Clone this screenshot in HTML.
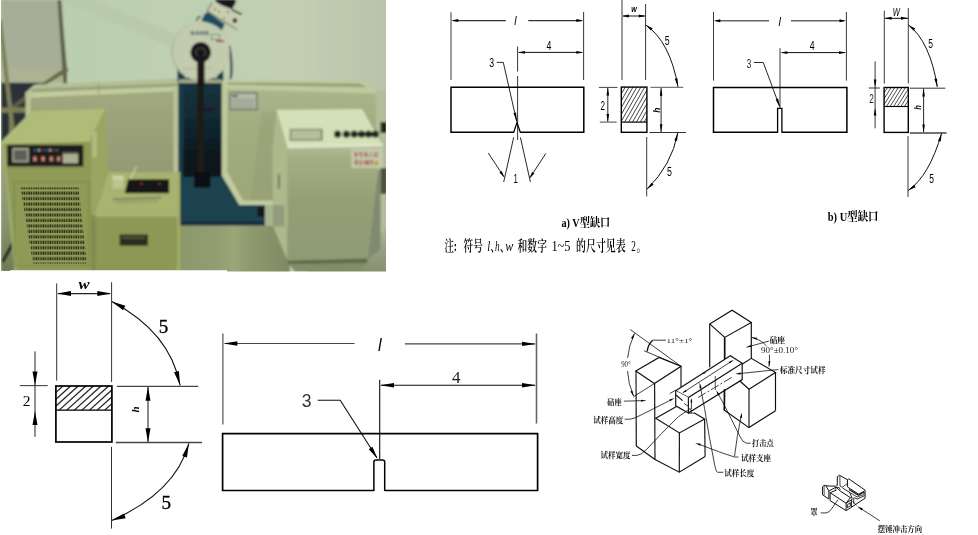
<!DOCTYPE html>
<html lang="zh"><head><meta charset="utf-8"><title>冲击试验</title>
<style>html,body{margin:0;padding:0;background:#fff}svg{display:block}</style></head>
<body><svg width="978" height="535" viewBox="0 0 978 535">
<rect width="978" height="535" fill="#fff"/>
<g id="photo"><defs>
<clipPath id="pc"><path d="M1,0 H386 V271.5 H227 V270.3 H10 V271 H1 Z"/></clipPath>
<filter id="pbv" x="-5%" y="-5%" width="110%" height="110%"><feGaussianBlur stdDeviation="0.45"/></filter><filter id="pb" x="-5%" y="-5%" width="110%" height="110%"><feGaussianBlur stdDeviation="1.0"/></filter>
<linearGradient id="wall" x1="0" y1="0" x2="1" y2="0"><stop offset="0" stop-color="#b9cdad"/><stop offset=".3" stop-color="#bdcfb1"/><stop offset=".75" stop-color="#c2cfb3"/><stop offset="1" stop-color="#b8c2a8"/></linearGradient>
<linearGradient id="floor" x1="0" y1="0" x2="1" y2="0"><stop offset="0" stop-color="#8c976b"/><stop offset=".35" stop-color="#929e70"/><stop offset=".5" stop-color="#9aa678"/><stop offset=".65" stop-color="#8e996d"/><stop offset="1" stop-color="#7f8a62"/></linearGradient>
<linearGradient id="col" x1="0" y1="0" x2="0" y2="1"><stop offset="0" stop-color="#163441"/><stop offset=".3" stop-color="#132c37"/><stop offset=".55" stop-color="#10232c"/><stop offset=".7" stop-color="#0d1a21"/><stop offset="1" stop-color="#0b141a"/></linearGradient>
<linearGradient id="rcab" x1="0" y1="0" x2="0" y2="1"><stop offset="0" stop-color="#b4be95"/><stop offset=".12" stop-color="#a3ae84"/><stop offset=".5" stop-color="#949f76"/><stop offset="1" stop-color="#8f9b74"/></linearGradient>
<linearGradient id="brf" gradientUnits="userSpaceOnUse" x1="0" y1="225" x2="0" y2="272"><stop offset="0" stop-color="#b0b998"/><stop offset=".5" stop-color="#98a282"/><stop offset="1" stop-color="#87916f"/></linearGradient>
<linearGradient id="lstrip" gradientUnits="userSpaceOnUse" x1="0" y1="141" x2="0" y2="272"><stop offset="0" stop-color="#9fa884"/><stop offset=".6" stop-color="#8a9470"/><stop offset="1" stop-color="#707a56"/></linearGradient><linearGradient id="mesh" x1="0" y1="0" x2="0" y2="1"><stop offset="0" stop-color="#aeb790"/><stop offset=".35" stop-color="#a4ae7f"/><stop offset="1" stop-color="#9ea878"/></linearGradient>
<linearGradient id="meshL" x1="0" y1="0" x2="0" y2="1"><stop offset="0" stop-color="#a5ac82"/><stop offset="1" stop-color="#8f9670"/></linearGradient>
<pattern id="vent" x="0" y="0" width="2.35" height="5.46" patternUnits="userSpaceOnUse"><rect width="2.35" height="5.46" fill="#8f9b55"/><rect x="0.35" y="0.5" width="1.45" height="3.1" fill="#262b18"/></pattern>
<pattern id="meshp" x="0" y="0" width="4" height="2.4" patternUnits="userSpaceOnUse"><rect width="4" height="2.4" fill="none"/><rect y="0" width="4" height="0.9" fill="#8a916c" opacity=".22"/></pattern>
</defs>
<g clip-path="url(#pc)"><g filter="url(#pb)">
<rect x="-5" y="-5" width="400" height="285" fill="url(#wall)"/>
<polygon points="95,0 200,45 200,60 60,0" fill="#b6c3a8" opacity=".5"/>
<polygon points="1,0 62,0 65,83 1,83" fill="#a9b09a"/>
<rect x="2" y="0" width="62" height="83" fill="url(#meshp)"/>
<polygon points="1,68 64,68 65,83 1,83" fill="#b0b595" opacity=".6"/>
<polygon points="1,82.7 46,82.7 36.6,84.5 25.5,93 28,125 1,142" fill="#2b3238"/>
<polygon points="57.5,0 61,0 67,70 67,83.5 63.4,83.5" fill="#5e6146"/>
<polygon points="66.7,66.5 68.5,71 47,84 41,84" fill="#666949"/>
<polygon points="41,84 47,84 14,109.5 10,107" fill="#5a5e44"/>
<polygon points="-2,20 1.8,20 13.7,120 15.5,137 9,140 9.2,120" fill="#7d8057"/>
<polygon points="1,107.6 28,107.2 28,112.4 1,112.8" fill="#7b7e55"/>
<polygon points="25.7,92.5 35,85 178,79 178,200 25.7,200" fill="url(#meshL)"/>
<rect x="30" y="96" width="146" height="100" fill="url(#meshp)"/>
<polygon points="25.7,92.5 34,85 178,79.3 178,83 37,88.5 31,93.5" fill="#b6bf94"/>
<polygon points="31,89.5 178,84 178,87 31,92.6" fill="#98a179"/>
<polygon points="25.7,92.5 178,86.6 178,91 25.7,97.8" fill="#c3cc9f"/>
<rect x="25.7" y="93" width="5" height="30" fill="#b9c297"/>
<rect x="173.5" y="86" width="5" height="120" fill="#b9c297"/>
<line x1="98.7" y1="84" x2="98.7" y2="94" stroke="#8f9872" stroke-width="1"/>
<polygon points="221.7,80 363,81.2 375.8,89.5 375.8,150 221.7,150" fill="url(#mesh)"/>
<polygon points="227,88 375,91 375,210 227,210" fill="url(#mesh)"/>
<rect x="227" y="92" width="148" height="118" fill="url(#meshp)"/>
<polygon points="262,112 276,112 274,205 250,205" fill="#8f9672" opacity=".3"/>
<polygon points="221.7,79.6 363,81 375.8,89.5 375.8,93.5 221.7,88.5" fill="#c1ca9e"/>
<polygon points="228,82.4 360,83.4 367,87.2 228,84.8" fill="#98a179"/>
<rect x="221.7" y="80" width="5.6" height="96" fill="#c0c99d"/>
<polygon points="221.7,174 227.3,172 243,200.5 273,200.5 273,205 239.2,205" fill="#c3cc9f"/>
<rect x="229.5" y="92" width="28" height="18.3" fill="#6e7366"/>
<rect x="231" y="93.6" width="25" height="15" fill="#b6bba8"/>
<rect x="232" y="95" width="6" height="2" fill="#4a5866"/>
<rect x="232.5" y="99" width="22" height="0.8" fill="#858a7c"/>
<rect x="232.5" y="101.4" width="22" height="0.8" fill="#858a7c"/>
<rect x="232.5" y="103.8" width="22" height="0.8" fill="#858a7c"/>
<rect x="232.5" y="106.2" width="22" height="0.8" fill="#858a7c"/>
<rect x="178.5" y="78" width="43.2" height="100" fill="url(#col)"/>
<rect x="178.5" y="84" width="5" height="142" fill="#183a47"/>
<polygon points="181.6,175.3 221.7,175.3 239.2,205 264.9,205 264.9,225.6 181.6,225.6" fill="#1c4250"/>
<rect x="181.6" y="221.5" width="83.3" height="4.6" fill="#142f3b"/>
<rect x="183" y="150" width="38" height="27" fill="#0e151c"/>
<rect x="197.3" y="48" width="6.6" height="128" fill="#1e1b18"/>
<rect x="203" y="108.5" width="10" height="3.4" fill="#1c1c22"/>
<rect x="193.9" y="172" width="16.5" height="15.6" fill="#101114"/>
<rect x="257.7" y="207" width="8.2" height="9.5" fill="#121317"/>
<polygon points="201.2,20.6 205,13.5 208,12.3 224.8,23.9 221.8,30.7" fill="#1c4c62"/>
<path d="M200.5,16.5 Q196.5,17 197.2,21" fill="none" stroke="#1f2c30" stroke-width="1.4"/>
<polygon points="212.1,2.2 243.9,15.5 236.8,29.5 207.2,11.2" fill="#c8ceae"/>
<polyline points="236.8,29.5 207.2,11.2 212.1,2.2" fill="none" stroke="#3a3f34" stroke-width="0.9"/>
<polygon points="215,-1 235.6,-1 235.6,3 232,9.2 222,5.5 216,2" fill="#17191a"/>
<line x1="231.9" y1="9.7" x2="241.6" y2="14.6" stroke="#1c1e1e" stroke-width="1.7"/>
<circle cx="234.9" cy="20.6" r="2.3" fill="#1f2220"/>
<circle cx="214.7" cy="9" r="0.9" fill="#4a4f40"/>
<circle cx="218.8" cy="11.6" r="0.9" fill="#4a4f40"/>
<circle cx="227.8" cy="12" r="0.9" fill="#4a4f40"/>
<circle cx="224" cy="18.3" r="0.9" fill="#4a4f40"/>
<path d="M229.3,46 Q232.5,62 230.8,79" fill="none" stroke="#1a262e" stroke-width="2.2"/>
<polygon points="177.5,66 183,66 186,82 177.5,82" fill="#18384a"/>
<polygon points="218,72 223,66 223.5,80 216,82" fill="#18384a"/>
<rect x="178.5" y="79.4" width="43.2" height="3.6" fill="#a3ab86"/>
<ellipse cx="200.5" cy="51.5" rx="29" ry="29.6" fill="#a5ad92"/>
<ellipse cx="201.2" cy="51" rx="28.6" ry="29.2" fill="#c3cbae"/>
<text transform="translate(199.6 35) scale(1.15 1)" font-family="Liberation Sans, sans-serif" font-size="6" text-anchor="middle" font-weight="bold" font-style="italic" fill="#2a3f5c">SANS</text>
<rect x="211.4" y="34.5" width="8" height="5" fill="#c3d0b4"  stroke="#3f8450" stroke-width="0.9"/>
<rect x="216.5" y="40" width="7.5" height="2.1" fill="#b03a38"/>
<line x1="183" y1="68.5" x2="213" y2="68.5" stroke="#8a8f88" stroke-width="0.5"/>
<circle cx="200.7" cy="52.4" r="10.3" fill="#151517"/>
<circle cx="200.7" cy="52.4" r="5.6" fill="#3a3c3c"/>
<circle cx="200.7" cy="52.4" r="3.6" fill="#121212"/>
<rect x="197.2" y="56" width="7.4" height="30" fill="#1b1714"/>
<polygon points="178,225.6 290,225.6 290,275 178,275" fill="url(#floor)"/>
<rect x="376" y="90" width="12" height="140" fill="#b3bd9a"/>
<polygon points="364,250 388,225 388,275 300,275" fill="url(#brf)"/>
<rect x="380.5" y="122" width="6.5" height="11" fill="#23251f"/>
<rect x="380.5" y="168" width="6.5" height="26" fill="#4e5138"/>
<polygon points="378,170 380.5,170 380.5,250 367.5,258.8" fill="#7f8a70"/>
<polygon points="276.7,110 287.5,147.4 287.5,260.6 273,226 272.5,147" fill="#aeb88b"/>
<rect x="272.7" y="205" width="11.7" height="21.7" fill="#939c7c"/>
<rect x="265" y="205" width="8" height="21" fill="#a9b28f"/>
<line x1="278.8" y1="174.3" x2="278.8" y2="188.6" stroke="#3c4034" stroke-width="1.2"/>
<polygon points="287.5,146 382.7,144.5 378,170 367.5,258.8 287.5,260.6" fill="url(#rcab)"/>
<polygon points="276.7,110 362.1,109.1 382.7,145.4 287.5,147.4" fill="#d4e1b8"/>
<polygon points="287.5,145.4 382.7,143.6 382.7,146.4 287.5,148.2" fill="#dfe6c8"/>
<polygon points="287.5,260.4 367.5,258.6 367,263 289,264.5" fill="#5f6a4c"/>
<polygon points="289,264.5 367,263 360,272 295,272" fill="#818c68"/>
<rect x="289.5" y="128.7" width="33.3" height="12.2" fill="#8b927a"/>
<rect x="291.5" y="130.5" width="29" height="8.6" fill="#b7bf9f"/>
<circle cx="337.6" cy="134.2" r="3.6" fill="#1b2a1f"/>
<circle cx="346.4" cy="134.2" r="3.6" fill="#1b2a1f"/>
<circle cx="354.2" cy="134.2" r="3.6" fill="#1b2a1f"/>
<circle cx="361.5" cy="134.2" r="3.6" fill="#1b2a1f"/>
<circle cx="368.6" cy="134.2" r="3.6" fill="#1b2a1f"/>
<circle cx="375.3" cy="134.2" r="3.6" fill="#1b2a1f"/>
<rect x="351.3" y="148.4" width="31.4" height="19.5" fill="#c5c9ae"/>
<text transform="translate(366 156.2)" font-family="Liberation Sans, Noto Sans CJK SC, sans-serif" font-size="5" text-anchor="middle" font-weight="bold" font-style="normal" fill="#a0513f">非专业人员</text>
<text transform="translate(364 163.8)" font-family="Liberation Sans, Noto Sans CJK SC, sans-serif" font-size="5" text-anchor="middle" font-weight="bold" font-style="normal" fill="#a0513f">禁止操作</text>
<polygon points="376.5,160 379.5,165 373.5,165" fill="#b99a2e"/>
<polygon points="1,141 4,141 16,272 1,272" fill="url(#lstrip)"/>
<line x1="13" y1="243" x2="2.5" y2="262" stroke="#1c1f14" stroke-width="3.2"/>
<polygon points="90.5,138.8 104.9,108.9 108.4,172.2 95.5,215.4 90.5,215.4" fill="#99a560"/>
<rect x="90.5" y="215" width="5.5" height="58" fill="#7f8a50"/>
<rect x="92.6" y="132.6" width="4.1" height="24.7" fill="#b5bd88"  transform="skewY(-8) translate(0 13)"/>
<polygon points="31.9,111 104.9,108.9 90.5,138.8 2,140.8" fill="#b1bb78"/>
<polygon points="2,140.8 90.8,138.8 91.6,272 14.5,272" fill="#8e9a55"/>
<polygon points="2,141 4,141 17,272 14.5,272" fill="#a3ad6c"/>
<polygon points="2,140.8 90.8,138.8 90.8,141.5 2,143.5" fill="#b6c07e"/>
<rect x="7.2" y="144.9" width="76.1" height="21.6" fill="#1b1d1e"/>
<rect x="12.3" y="148" width="16.5" height="14.4" fill="#a0a68a"/>
<rect x="14" y="150" width="13" height="10.5" fill="#5a6156"/>
<rect x="34" y="149.2" width="2" height="2" fill="#44709f"/>
<rect x="38" y="149.2" width="2" height="2" fill="#b9bdb0"/>
<rect x="41.6" y="149.2" width="2" height="2" fill="#98463a"/>
<rect x="45.3" y="149.2" width="2" height="2" fill="#44709f"/>
<rect x="49" y="149.2" width="2" height="2" fill="#b9bdb0"/>
<rect x="52.5" y="149.2" width="2" height="2" fill="#98463a"/>
<rect x="56.2" y="149.2" width="2" height="2" fill="#44709f"/>
<rect x="32.9" y="156.2" width="4" height="5.4" fill="#a0473a"/>
<rect x="34" y="157.4" width="1.8" height="3" fill="#c5b8a8"/>
<rect x="41.1" y="156.2" width="4" height="5.4" fill="#a0473a"/>
<rect x="42.2" y="157.4" width="1.8" height="3" fill="#c5b8a8"/>
<rect x="49.4" y="156.2" width="4" height="5.4" fill="#a0473a"/>
<rect x="50.5" y="157.4" width="1.8" height="3" fill="#c5b8a8"/>
<rect x="56.6" y="156.2" width="4" height="5.4" fill="#a0473a"/>
<rect x="57.7" y="157.4" width="1.8" height="3" fill="#c5b8a8"/>
<rect x="62.7" y="152.4" width="15.5" height="11" fill="#a9af90"/>
<rect x="62.7" y="152.4" width="15.5" height="1.6" fill="#4c4f46"/>
<rect x="14.4" y="181.9" width="74.6" height="83.8" fill="none" stroke="#7b8748" stroke-width="1"/>
<polygon points="108.4,172.2 179.6,172.2 179.6,216 95.5,216" fill="#a9b370"/>
<polygon points="95.5,215.4 179.6,215.4 179.6,272 95.5,272" fill="#8d9857"/>
<line x1="95.5" y1="215.8" x2="179.6" y2="215.8" stroke="#b3bc7c" stroke-width="1.2"/>
<rect x="177.2" y="172" width="3" height="100" fill="#a3ad68"/>
<polygon points="128.2,179.2 169.1,179.2 169.1,193.2 124.7,193.2" fill="#141512"/>
<rect x="140" y="183.2" width="3" height="1.2" fill="#98463a"/>
<rect x="158" y="183.2" width="3" height="1.2" fill="#98463a"/>
<rect x="112.6" y="175.7" width="11" height="12.8" fill="#bcc492"/>
<rect x="112.6" y="175.7" width="11" height="4" fill="#cdd4a6"/>
<line x1="130.5" y1="179.2" x2="136.4" y2="166.3" stroke="#d0d6b4" stroke-width="1.1"/>
<line x1="113" y1="199.5" x2="160.9" y2="197.5" stroke="#6f7650" stroke-width="1.4"/>
<line x1="116" y1="202.5" x2="158" y2="201" stroke="#7f865c" stroke-width="1"/>
<rect x="119.6" y="234.5" width="28.4" height="11.2" fill="#2a2f1c"/>
<rect x="122" y="237" width="23" height="1.5" fill="#5c6140"/>
</g><g filter="url(#pbv)">
<polygon points="20.5,187.6 78.5,187.6 86.8,263.5 33,263.5" fill="url(#vent)"/>
</g></g></g>
<defs><filter id="soft" x="-2%" y="-2%" width="104%" height="104%"><feGaussianBlur stdDeviation="0.35"/></filter></defs>
<g id="dia-a" filter="url(#soft)"><line x1="451" y1="12.3" x2="451" y2="80" stroke="#222" stroke-width="0.9"/>
<line x1="583.6" y1="12" x2="583.6" y2="80" stroke="#222" stroke-width="0.9"/>
<line x1="453" y1="20.6" x2="505.8" y2="20.6" stroke="#333" stroke-width="1.3"/>
<line x1="528.3" y1="20.6" x2="582" y2="20.6" stroke="#333" stroke-width="1.3"/>
<polygon points="451.3,20.6 458.3,19.1 458.3,22.1" fill="#000"/>
<polygon points="583.3,20.6 576.3,22.1 576.3,19.1" fill="#000"/>
<text transform="translate(515.3 24.6) scale(0.8 1)" font-family="Liberation Sans, sans-serif" font-size="13" text-anchor="middle" font-weight="normal" font-style="italic" fill="#000">l</text>
<line x1="517.6" y1="46.5" x2="517.6" y2="71.5" stroke="#222" stroke-width="0.9"/>
<line x1="517.6" y1="76" x2="517.6" y2="140" stroke="#222" stroke-width="0.9"/>
<line x1="519" y1="52.4" x2="582" y2="52.4" stroke="#111" stroke-width="1"/>
<polygon points="517.9,52.4 524.9,51 524.9,53.8" fill="#000"/>
<polygon points="583.3,52.4 576.3,53.8 576.3,51" fill="#000"/>
<text transform="translate(549 50) scale(0.7 1)" font-family="Liberation Sans, sans-serif" font-size="12.5" text-anchor="middle" font-weight="normal" font-style="normal" fill="#000">4</text>
<text transform="translate(491.8 66.6) scale(0.7 1)" font-family="Liberation Sans, sans-serif" font-size="12.5" text-anchor="middle" font-weight="normal" font-style="normal" fill="#000">3</text>
<polyline points="496.7,62.4 503.3,62.4 516.6,121" fill="none" stroke="#111" stroke-width="0.9"/>
<polygon points="517,122.5 513.51,113.04 516.04,112.46" fill="#000"/>
<polyline points="514,132.2 451,132.2 451,87.2 583.8,87.2 583.8,132.2 520,132.2" fill="none" stroke="#000" stroke-width="1.5"/>
<polyline points="513.6,132.6 517,122.5 520.4,132.6" fill="none" stroke="#000" stroke-width="1.3"/>
<line x1="513.7" y1="137.3" x2="503.7" y2="182" stroke="#111" stroke-width="0.9"/>
<line x1="520.4" y1="137.3" x2="530.4" y2="182" stroke="#111" stroke-width="0.9"/>
<line x1="488.3" y1="153" x2="503.8" y2="176.6" stroke="#111" stroke-width="0.9"/>
<polygon points="504.4,177.5 499.39,172.42 501.73,170.88" fill="#000"/>
<line x1="545.8" y1="153.5" x2="530" y2="177.6" stroke="#111" stroke-width="0.9"/>
<polygon points="529.4,178.5 532.07,171.88 534.41,173.41" fill="#000"/>
<text transform="translate(515.7 183.4) scale(0.6 1)" font-family="Liberation Sans, sans-serif" font-size="13" text-anchor="middle" font-weight="normal" font-style="normal" fill="#000">1</text>
<line x1="622" y1="0" x2="622" y2="80" stroke="#222" stroke-width="0.9"/>
<line x1="645.6" y1="4" x2="645.6" y2="80" stroke="#222" stroke-width="0.9"/>
<line x1="623" y1="16" x2="645" y2="16" stroke="#111" stroke-width="1"/>
<polygon points="622.3,16 628.8,14.5 628.8,17.5" fill="#000"/>
<polygon points="645.3,16 638.8,17.5 638.8,14.5" fill="#000"/>
<text transform="translate(634 12.4) scale(0.75 1)" font-family="Liberation Sans, sans-serif" font-size="9.5" text-anchor="middle" font-weight="bold" font-style="italic" fill="#000">w</text>
<path d="M645.8,24.9 Q670.2,42 678,87" fill="none" stroke="#111" stroke-width="1"/>
<polygon points="645.8,24.9 652.63,28.3 650.95,30.53" fill="#000"/>
<polygon points="678,86.8 674.72,78.83 677.45,78.2" fill="#000"/>
<text transform="translate(667.3 45.3) scale(0.65 1)" font-family="Liberation Sans, sans-serif" font-size="13.5" text-anchor="middle" font-weight="normal" font-style="normal" fill="#000">5</text>
<line x1="650.4" y1="87.4" x2="683.3" y2="87.4" stroke="#777" stroke-width="1.2"/>
<line x1="598.9" y1="87.4" x2="617.5" y2="87.4" stroke="#444" stroke-width="1"/>
<line x1="599.8" y1="122.1" x2="616.7" y2="122.1" stroke="#444" stroke-width="1"/>
<line x1="607.8" y1="88" x2="607.8" y2="121.5" stroke="#111" stroke-width="0.9"/>
<polygon points="607.8,87.6 609.1,95.6 606.5,95.6" fill="#000"/>
<polygon points="607.8,121.9 606.5,113.9 609.1,113.9" fill="#000"/>
<text transform="translate(602.8 109.7) scale(0.65 1)" font-family="Liberation Sans, sans-serif" font-size="12.5" text-anchor="middle" font-weight="normal" font-style="normal" fill="#000">2</text>
<clipPath id="ha"><rect x="621.3" y="87.1" width="25.6" height="35"/></clipPath><g clip-path="url(#ha)"><line x1="601.3" y1="122.1" x2="621.3" y2="87.1" stroke="#222" stroke-width="0.85"/><line x1="605.2" y1="122.1" x2="625.2" y2="87.1" stroke="#222" stroke-width="0.85"/><line x1="609.1" y1="122.1" x2="629.1" y2="87.1" stroke="#222" stroke-width="0.85"/><line x1="613" y1="122.1" x2="633" y2="87.1" stroke="#222" stroke-width="0.85"/><line x1="616.9" y1="122.1" x2="636.9" y2="87.1" stroke="#222" stroke-width="0.85"/><line x1="620.8" y1="122.1" x2="640.8" y2="87.1" stroke="#222" stroke-width="0.85"/><line x1="624.7" y1="122.1" x2="644.7" y2="87.1" stroke="#222" stroke-width="0.85"/><line x1="628.6" y1="122.1" x2="648.6" y2="87.1" stroke="#222" stroke-width="0.85"/><line x1="632.5" y1="122.1" x2="652.5" y2="87.1" stroke="#222" stroke-width="0.85"/><line x1="636.4" y1="122.1" x2="656.4" y2="87.1" stroke="#222" stroke-width="0.85"/><line x1="640.3" y1="122.1" x2="660.3" y2="87.1" stroke="#222" stroke-width="0.85"/><line x1="644.2" y1="122.1" x2="664.2" y2="87.1" stroke="#222" stroke-width="0.85"/></g>
<rect x="621.3" y="87.1" width="25.6" height="45.2" fill="none" stroke="#000" stroke-width="1.4"/>
<line x1="621.3" y1="122.1" x2="646.9" y2="122.1" stroke="#000" stroke-width="1.2"/>
<line x1="661.1" y1="88" x2="661.1" y2="132" stroke="#111" stroke-width="0.9"/>
<polygon points="661.1,87.8 662.4,95.8 659.8,95.8" fill="#000"/>
<polygon points="661.1,132.2 659.8,124.2 662.4,124.2" fill="#000"/>
<text transform="translate(659.6 110.2) rotate(-90) scale(0.9 1)" font-family="Liberation Sans, sans-serif" font-size="9.5" text-anchor="middle" font-weight="bold" font-style="italic" fill="#000">h</text>
<line x1="649.5" y1="132.5" x2="686" y2="132.5" stroke="#333" stroke-width="1.1"/>
<line x1="646.7" y1="137" x2="646.7" y2="196.4" stroke="#222" stroke-width="0.9"/>
<path d="M677.8,132.8 Q671.8,165 646.9,189.3" fill="none" stroke="#111" stroke-width="1"/>
<polygon points="677.8,133 677.08,141.09 674.38,140.37" fill="#000"/>
<polygon points="646.9,189.3 651.57,182.65 653.55,184.63" fill="#000"/>
<text transform="translate(669.4 176) scale(0.65 1)" font-family="Liberation Sans, sans-serif" font-size="13.5" text-anchor="middle" font-weight="normal" font-style="normal" fill="#000">5</text>
<text transform="translate(561.5 227)" font-family="Liberation Serif, Noto Serif CJK SC, serif" font-size="12.5" text-anchor="start" font-weight="bold" font-style="normal" fill="#000" textLength="48.8" lengthAdjust="spacingAndGlyphs">a) V型缺口</text>
<text transform="translate(444.5 251.3)" font-family="Liberation Serif, Noto Serif CJK SC, serif" font-size="14.5" text-anchor="start" font-weight="600" font-style="normal" fill="#000" textLength="12.4" lengthAdjust="spacingAndGlyphs">注:</text>
<text transform="translate(463.6 251.3)" font-family="Liberation Serif, Noto Serif CJK SC, serif" font-size="14.5" text-anchor="start" font-weight="600" font-style="normal" fill="#000" textLength="19.1" lengthAdjust="spacingAndGlyphs">符号</text>
<text transform="translate(487.2 251.3)" font-family="Liberation Serif, Noto Serif CJK SC, serif" font-size="14.5" text-anchor="start" font-weight="normal" font-style="italic" fill="#000" textLength="3" lengthAdjust="spacingAndGlyphs">l</text>
<text transform="translate(490.4 251.3)" font-family="Liberation Serif, Noto Serif CJK SC, serif" font-size="14.5" text-anchor="start" font-weight="600" font-style="normal" fill="#000" textLength="9.5" lengthAdjust="spacingAndGlyphs">、</text>
<text transform="translate(495.1 251.3)" font-family="Liberation Serif, Noto Serif CJK SC, serif" font-size="14.5" text-anchor="start" font-weight="normal" font-style="italic" fill="#000" textLength="4.6" lengthAdjust="spacingAndGlyphs">h</text>
<text transform="translate(500 251.3)" font-family="Liberation Serif, Noto Serif CJK SC, serif" font-size="14.5" text-anchor="start" font-weight="600" font-style="normal" fill="#000" textLength="9.5" lengthAdjust="spacingAndGlyphs">、</text>
<text transform="translate(505.2 251.3)" font-family="Liberation Serif, Noto Serif CJK SC, serif" font-size="14.5" text-anchor="start" font-weight="normal" font-style="italic" fill="#000" textLength="8" lengthAdjust="spacingAndGlyphs">w</text>
<text transform="translate(517.6 251.3)" font-family="Liberation Serif, Noto Serif CJK SC, serif" font-size="14.5" text-anchor="start" font-weight="600" font-style="normal" fill="#000" textLength="29.3" lengthAdjust="spacingAndGlyphs">和数字</text>
<text transform="translate(551.4 251.3)" font-family="Liberation Serif, Noto Serif CJK SC, serif" font-size="14.5" text-anchor="start" font-weight="normal" font-style="normal" fill="#000" textLength="19.1" lengthAdjust="spacingAndGlyphs">1~5</text>
<text transform="translate(576.1 251.3)" font-family="Liberation Serif, Noto Serif CJK SC, serif" font-size="14.5" text-anchor="start" font-weight="600" font-style="normal" fill="#000" textLength="49.5" lengthAdjust="spacingAndGlyphs">的尺寸见表</text>
<text transform="translate(631.2 251.3)" font-family="Liberation Serif, Noto Serif CJK SC, serif" font-size="14.5" text-anchor="start" font-weight="normal" font-style="normal" fill="#000" textLength="4.6" lengthAdjust="spacingAndGlyphs">2</text>
<text transform="translate(636.4 251.3)" font-family="Liberation Serif, Noto Serif CJK SC, serif" font-size="14.5" text-anchor="start" font-weight="600" font-style="normal" fill="#000" textLength="10" lengthAdjust="spacingAndGlyphs">。</text></g>
<g id="dia-b" filter="url(#soft)"><line x1="713.5" y1="11.8" x2="713.5" y2="80.6" stroke="#222" stroke-width="0.9"/>
<line x1="846.4" y1="12" x2="846.4" y2="80.6" stroke="#222" stroke-width="0.9"/>
<line x1="716" y1="20.7" x2="769" y2="20.7" stroke="#666" stroke-width="1.4"/>
<line x1="791" y1="20.7" x2="844" y2="20.7" stroke="#666" stroke-width="1.4"/>
<polygon points="713.8,20.7 720.3,19.2 720.3,22.2" fill="#000"/>
<polygon points="846,20.7 839.5,22.2 839.5,19.2" fill="#000"/>
<text transform="translate(779.8 26.2) scale(0.8 1)" font-family="Liberation Sans, sans-serif" font-size="13.5" text-anchor="middle" font-weight="normal" font-style="italic" fill="#000">l</text>
<line x1="780" y1="48.2" x2="780" y2="108" stroke="#222" stroke-width="0.9"/>
<line x1="782" y1="52.6" x2="845" y2="52.6" stroke="#111" stroke-width="1"/>
<polygon points="780.3,52.6 787.3,51.2 787.3,54" fill="#000"/>
<polygon points="846,52.6 839,54 839,51.2" fill="#000"/>
<text transform="translate(812.3 49.8) scale(0.7 1)" font-family="Liberation Sans, sans-serif" font-size="12.5" text-anchor="middle" font-weight="normal" font-style="normal" fill="#000">4</text>
<text transform="translate(749 67.8) scale(0.7 1)" font-family="Liberation Sans, sans-serif" font-size="12.5" text-anchor="middle" font-weight="normal" font-style="normal" fill="#333">3</text>
<polyline points="754,62.5 763.3,62.5 779.6,106.5" fill="none" stroke="#111" stroke-width="0.9"/>
<polygon points="780,107.5 775.65,99.51 778.09,98.61" fill="#000"/>
<polyline points="777.6,132.2 713.5,132.2 713.5,87.4 846.9,87.4 846.9,132.2 781.9,132.2" fill="none" stroke="#000" stroke-width="1.5"/>
<polyline points="777.6,132.8 777.6,108.4 781.9,108.4 781.9,132.8" fill="none" stroke="#000" stroke-width="1.3"/>
<line x1="884.3" y1="10.7" x2="884.3" y2="83.5" stroke="#222" stroke-width="0.9"/>
<line x1="908.3" y1="8" x2="908.3" y2="83.5" stroke="#222" stroke-width="0.9"/>
<line x1="885" y1="18.3" x2="908" y2="18.3" stroke="#111" stroke-width="1"/>
<polygon points="884.6,18.3 891.6,16.8 891.6,19.8" fill="#000"/>
<polygon points="908,18.3 901,19.8 901,16.8" fill="#000"/>
<text transform="translate(896.4 16.2) scale(0.75 1)" font-family="Liberation Sans, sans-serif" font-size="10" text-anchor="middle" font-weight="normal" font-style="italic" fill="#000">W</text>
<path d="M908.5,24.9 Q930.2,42 937.3,87" fill="none" stroke="#111" stroke-width="1"/>
<polygon points="908.5,24.9 915.21,28.53 913.45,30.71" fill="#000"/>
<polygon points="937.3,87 934.3,78.92 937.05,78.39" fill="#000"/>
<text transform="translate(930.6 48.3) scale(0.65 1)" font-family="Liberation Sans, sans-serif" font-size="13" text-anchor="middle" font-weight="normal" font-style="normal" fill="#000">5</text>
<line x1="909.8" y1="88.2" x2="945.3" y2="88.2" stroke="#333" stroke-width="1"/>
<line x1="868.9" y1="88" x2="879.9" y2="88" stroke="#333" stroke-width="1"/>
<line x1="875.1" y1="61.3" x2="875.1" y2="128.3" stroke="#222" stroke-width="0.9"/>
<polygon points="875.1,87.6 873.8,79.6 876.4,79.6" fill="#000"/>
<polygon points="875.1,107.5 876.4,115.5 873.8,115.5" fill="#000"/>
<text transform="translate(871.5 103.4) scale(0.65 1)" font-family="Liberation Sans, sans-serif" font-size="12.5" text-anchor="middle" font-weight="normal" font-style="normal" fill="#222">2</text>
<clipPath id="hb"><rect x="884" y="87.4" width="24.3" height="19.1"/></clipPath><g clip-path="url(#hb)"><line x1="872.06" y1="106.5" x2="884" y2="87.4" stroke="#222" stroke-width="0.8"/><line x1="875.66" y1="106.5" x2="887.6" y2="87.4" stroke="#222" stroke-width="0.8"/><line x1="879.26" y1="106.5" x2="891.2" y2="87.4" stroke="#222" stroke-width="0.8"/><line x1="882.86" y1="106.5" x2="894.8" y2="87.4" stroke="#222" stroke-width="0.8"/><line x1="886.46" y1="106.5" x2="898.4" y2="87.4" stroke="#222" stroke-width="0.8"/><line x1="890.06" y1="106.5" x2="902" y2="87.4" stroke="#222" stroke-width="0.8"/><line x1="893.66" y1="106.5" x2="905.6" y2="87.4" stroke="#222" stroke-width="0.8"/><line x1="897.26" y1="106.5" x2="909.2" y2="87.4" stroke="#222" stroke-width="0.8"/><line x1="900.86" y1="106.5" x2="912.8" y2="87.4" stroke="#222" stroke-width="0.8"/><line x1="904.46" y1="106.5" x2="916.4" y2="87.4" stroke="#222" stroke-width="0.8"/><line x1="908.06" y1="106.5" x2="920" y2="87.4" stroke="#222" stroke-width="0.8"/></g>
<rect x="884.1" y="87.5" width="24.2" height="44.9" fill="none" stroke="#000" stroke-width="1.4"/>
<line x1="884" y1="106.5" x2="908.3" y2="106.5" stroke="#000" stroke-width="1.1"/>
<line x1="923.6" y1="88.5" x2="923.6" y2="132.4" stroke="#111" stroke-width="0.9"/>
<polygon points="923.6,88.4 924.9,96.4 922.3,96.4" fill="#000"/>
<polygon points="923.6,132.4 922.3,124.4 924.9,124.4" fill="#000"/>
<text transform="translate(921.4 107.5) rotate(-90) scale(0.9 1)" font-family="Liberation Sans, sans-serif" font-size="8.5" text-anchor="middle" font-weight="bold" font-style="italic" fill="#000">h</text>
<line x1="909.8" y1="132.9" x2="946.5" y2="132.9" stroke="#444" stroke-width="1.5"/>
<line x1="908" y1="136" x2="908" y2="197" stroke="#222" stroke-width="0.9"/>
<path d="M941.6,133.3 Q929.2,176 908.2,190.5" fill="none" stroke="#111" stroke-width="1"/>
<polygon points="941.6,133.5 940.74,141.58 938.05,140.8" fill="#000"/>
<polygon points="908.2,190.5 914.05,184.87 915.62,187.19" fill="#000"/>
<text transform="translate(931.5 183.4) scale(0.65 1)" font-family="Liberation Sans, sans-serif" font-size="13" text-anchor="middle" font-weight="normal" font-style="normal" fill="#000">5</text>
<text transform="translate(827.8 221)" font-family="Liberation Serif, Noto Serif CJK SC, serif" font-size="12.5" text-anchor="start" font-weight="bold" font-style="normal" fill="#000" textLength="50.7" lengthAdjust="spacingAndGlyphs">b) U型缺口</text></g>
<g id="dia-bl" filter="url(#soft)"><line x1="56.7" y1="283.4" x2="56.7" y2="380.6" stroke="#333" stroke-width="1"/>
<line x1="111.6" y1="282.2" x2="111.6" y2="382" stroke="#333" stroke-width="1"/>
<line x1="58" y1="293.6" x2="110" y2="293.6" stroke="#222" stroke-width="1.2"/>
<polygon points="57,293.6 71,291.1 71,296.1" fill="#000"/>
<polygon points="111.3,293.6 97.3,296.1 97.3,291.1" fill="#000"/>
<text transform="translate(84.1 289.4) scale(1.1 1)" font-family="Liberation Serif, serif" font-size="15" text-anchor="middle" font-weight="bold" font-style="italic" fill="#000">w</text>
<path d="M111.8,301.6 Q170.2,332.5 180.1,385.4" fill="none" stroke="#111" stroke-width="1.1"/>
<polygon points="111.8,301.6 125.41,305.73 123.14,310.18" fill="#000"/>
<polygon points="180.1,385.2 174.06,372.32 178.89,371.03" fill="#000"/>
<text transform="translate(163.6 333.2)" font-family="Liberation Serif, serif" font-size="19" text-anchor="middle" font-weight="normal" font-style="normal" fill="#000" stroke="#000" stroke-width="0.35">5</text>
<line x1="116.9" y1="386.4" x2="198.3" y2="386.4" stroke="#444" stroke-width="1.1"/>
<line x1="19.7" y1="385.6" x2="47.7" y2="385.6" stroke="#444" stroke-width="1.1"/>
<line x1="35" y1="351.4" x2="35" y2="436.8" stroke="#222" stroke-width="1"/>
<polygon points="35,385.4 32.5,371.4 37.5,371.4" fill="#000"/>
<polygon points="35,411 37.5,425 32.5,425" fill="#000"/>
<text transform="translate(26.5 406)" font-family="Liberation Serif, serif" font-size="15.5" text-anchor="middle" font-weight="normal" font-style="normal" fill="#000">2</text>
<clipPath id="hc"><rect x="55.7" y="385.8" width="56.4" height="24.3"/></clipPath><g clip-path="url(#hc)"><line x1="28.7" y1="410.1" x2="55.7" y2="385.8" stroke="#222" stroke-width="1.25"/><line x1="36.3" y1="410.1" x2="63.3" y2="385.8" stroke="#222" stroke-width="1.25"/><line x1="43.9" y1="410.1" x2="70.9" y2="385.8" stroke="#222" stroke-width="1.25"/><line x1="51.5" y1="410.1" x2="78.5" y2="385.8" stroke="#222" stroke-width="1.25"/><line x1="59.1" y1="410.1" x2="86.1" y2="385.8" stroke="#222" stroke-width="1.25"/><line x1="66.7" y1="410.1" x2="93.7" y2="385.8" stroke="#222" stroke-width="1.25"/><line x1="74.3" y1="410.1" x2="101.3" y2="385.8" stroke="#222" stroke-width="1.25"/><line x1="81.9" y1="410.1" x2="108.9" y2="385.8" stroke="#222" stroke-width="1.25"/><line x1="89.5" y1="410.1" x2="116.5" y2="385.8" stroke="#222" stroke-width="1.25"/><line x1="97.1" y1="410.1" x2="124.1" y2="385.8" stroke="#222" stroke-width="1.25"/><line x1="104.7" y1="410.1" x2="131.7" y2="385.8" stroke="#222" stroke-width="1.25"/><line x1="112.3" y1="410.1" x2="139.3" y2="385.8" stroke="#222" stroke-width="1.25"/></g>
<rect x="55.9" y="386" width="56" height="56" fill="none" stroke="#000" stroke-width="1.7"/>
<line x1="55.9" y1="410.1" x2="112" y2="410.1" stroke="#000" stroke-width="1.3"/>
<line x1="148" y1="387" x2="148" y2="442" stroke="#111" stroke-width="1"/>
<polygon points="148,386.8 150.5,400.8 145.5,400.8" fill="#000"/>
<polygon points="148,442.2 145.5,428.2 150.5,428.2" fill="#000"/>
<text transform="translate(139 409.5) rotate(-90)" font-family="Liberation Serif, serif" font-size="11" text-anchor="middle" font-weight="bold" font-style="italic" fill="#000">h</text>
<line x1="115.7" y1="442.6" x2="202" y2="442.6" stroke="#444" stroke-width="1.5"/>
<line x1="111.5" y1="446.9" x2="111.5" y2="528.6" stroke="#333" stroke-width="1"/>
<path d="M188.9,443.4 Q175.8,492.1 111.7,520.6" fill="none" stroke="#111" stroke-width="1.1"/>
<polygon points="188.9,443.4 186.95,457.49 182.2,455.94" fill="#000"/>
<polygon points="111.7,520.6 124,513.46 125.71,518.16" fill="#000"/>
<text transform="translate(166.3 509.2)" font-family="Liberation Serif, serif" font-size="19" text-anchor="middle" font-weight="normal" font-style="normal" fill="#000" stroke="#000" stroke-width="0.35">5</text>
<line x1="222.9" y1="333.5" x2="222.9" y2="424.5" stroke="#555" stroke-width="1.2"/>
<line x1="536.5" y1="333.5" x2="536.5" y2="423.5" stroke="#666" stroke-width="1.6"/>
<line x1="225" y1="343.5" x2="354.5" y2="343.5" stroke="#444" stroke-width="1.2"/>
<line x1="404.9" y1="343.9" x2="535" y2="343.9" stroke="#444" stroke-width="1.2"/>
<polygon points="223.3,343.5 237.3,341.3 237.3,345.7" fill="#000"/>
<polygon points="536,343.9 522,346.1 522,341.7" fill="#000"/>
<text transform="translate(379.7 351.2) scale(0.9 1)" font-family="Liberation Sans, sans-serif" font-size="18" text-anchor="middle" font-weight="normal" font-style="italic" fill="#000">l</text>
<line x1="379.7" y1="379.8" x2="379.7" y2="459" stroke="#111" stroke-width="1.1"/>
<line x1="381" y1="385.2" x2="535" y2="385.2" stroke="#111" stroke-width="1.1"/>
<polygon points="380,385.2 394,383 394,387.4" fill="#000"/>
<polygon points="536,385.2 522,387.4 522,383" fill="#000"/>
<text transform="translate(456.3 382.6)" font-family="Liberation Serif, serif" font-size="17" text-anchor="middle" font-weight="normal" font-style="normal" fill="#222">4</text>
<text transform="translate(306.6 407.2) scale(0.95 1)" font-family="Liberation Sans, sans-serif" font-size="18.5" text-anchor="middle" font-weight="normal" font-style="normal" fill="#333">3</text>
<polyline points="317.7,400.2 340.2,400.2 376.8,457.5" fill="none" stroke="#111" stroke-width="1.1"/>
<polygon points="377.6,459 368.77,449.21 372.48,446.85" fill="#000"/>
<path d="M373.9,490.5 H222.6 V433.7 H537.6 V490.5 H384.7" fill="none" stroke="#000" stroke-width="1.7"/>
<path d="M373.9,491 V462 Q373.9,460 376,460 H382.6 Q384.7,460 384.7,462 V491" fill="none" stroke="#000" stroke-width="1.5"/></g>
<g id="dia-iso" filter="url(#soft)"><polygon points="635.8,371 659.1,357.5 681,366.3 654.4,383.5" fill="none" stroke="#111" stroke-width="1.15"/>
<line x1="636" y1="371" x2="636.3" y2="446" stroke="#111" stroke-width="1.15"/>
<line x1="654.6" y1="383.5" x2="655" y2="459.5" stroke="#111" stroke-width="1.15"/>
<line x1="681" y1="366.3" x2="681" y2="388" stroke="#111" stroke-width="1.15"/>
<line x1="636.3" y1="446" x2="655" y2="459.5" stroke="#111" stroke-width="1.15"/>
<line x1="681" y1="366.3" x2="630.2" y2="329.5" stroke="#111" stroke-width="0.8"/>
<line x1="681" y1="366.3" x2="644.2" y2="350.8" stroke="#111" stroke-width="0.8"/>
<line x1="654.4" y1="383.5" x2="633.5" y2="396.7" stroke="#111" stroke-width="0.8"/>
<path d="M634.5,333.6 Q628.6,346 627.6,358" fill="none" stroke="#111" stroke-width="0.8"/>
<path d="M627.5,371 Q628.2,384 633.6,396.2" fill="none" stroke="#111" stroke-width="0.8"/>
<polygon points="634.7,333.2 632.77,338.97 631,338.03" fill="#000"/>
<polygon points="633.8,396.6 630.36,391.58 632.17,390.74" fill="#000"/>
<text transform="translate(621.2 367.4) scale(0.95 1)" font-family="Liberation Serif, serif" font-size="7.2" text-anchor="start" font-weight="normal" font-style="normal" fill="#222">90°</text>
<line x1="652.6" y1="340.2" x2="666" y2="340.2" stroke="#111" stroke-width="0.8"/>
<path d="M652.6,340.2 Q648,344.5 647.2,351.4" fill="none" stroke="#111" stroke-width="1.3"/>
<text transform="translate(666.6 343.4)" font-family="Liberation Serif, serif" font-size="6.8" text-anchor="start" font-weight="normal" font-style="normal" fill="#222" textLength="25.5" lengthAdjust="spacingAndGlyphs">11°±1°</text>
<polyline points="676.5,406.6 655.7,418.2 679.4,432.9 704.6,418.9 694,412.8" fill="none" stroke="#111" stroke-width="1.15"/>
<line x1="679.4" y1="432.9" x2="679.3" y2="472.2" stroke="#111" stroke-width="1.15"/>
<line x1="704.6" y1="418.9" x2="705.1" y2="456.4" stroke="#111" stroke-width="1.15"/>
<polyline points="655,459.5 679.3,472.2 705.1,456.4" fill="none" stroke="#111" stroke-width="1.15"/>
<polygon points="709.7,323.9 732.1,310.2 751.3,322.4 724.7,337.4" fill="none" stroke="#111" stroke-width="1.15"/>
<line x1="709.7" y1="323.9" x2="709.7" y2="367.3" stroke="#111" stroke-width="1.15"/>
<line x1="724.7" y1="337.4" x2="724.7" y2="359" stroke="#111" stroke-width="1.7"/>
<line x1="751.3" y1="322.4" x2="751.3" y2="358.3" stroke="#111" stroke-width="1.15"/>
<line x1="724.5" y1="389.3" x2="724.3" y2="410" stroke="#111" stroke-width="1.7"/>
<polyline points="741.9,364.3 751.3,358.3 775.5,372.4 749,389.3 739.6,380.8" fill="none" stroke="#111" stroke-width="1.15"/>
<line x1="749" y1="389.3" x2="749" y2="427.6" stroke="#111" stroke-width="1.15"/>
<line x1="775.5" y1="372.4" x2="775.5" y2="410.7" stroke="#111" stroke-width="1.15"/>
<polyline points="723.7,409.8 749,427.6 775.5,410.7" fill="none" stroke="#111" stroke-width="1.15"/>
<polygon points="675.7,390.8 730.3,355.7 742.2,363.2 688.4,397.5" fill="#fff" stroke="#111" stroke-width="1.15"/>
<polyline points="675.7,390.8 675.7,405.8 688.4,413 688.4,397.5" fill="#fff" stroke="#111" stroke-width="1.15"/>
<polyline points="688.4,413 742.2,379.6 742.2,363.2" fill="none" stroke="#111" stroke-width="1.15"/>
<polyline points="702.8,373.3 704.6,373.4 705.4,371.7" fill="none" stroke="#111" stroke-width="0.8"/>
<line x1="683" y1="392.6" x2="732.6" y2="360.6" stroke="#111" stroke-width="0.8"/>
<polygon points="682.2,393.1 685.91,389.63 686.89,391.15" fill="#000"/>
<polygon points="733.4,360.1 729.69,363.57 728.71,362.05" fill="#000"/>
<line x1="698.1" y1="397.5" x2="731.7" y2="377.4" stroke="#111" stroke-width="0.8" stroke-dasharray="9 2 2 2"/>
<line x1="715.3" y1="376" x2="715.3" y2="390" stroke="#111" stroke-width="0.7"/>
<line x1="691.4" y1="399.5" x2="691.4" y2="409" stroke="#111" stroke-width="0.8"/>
<polygon points="691.4,398.3 692.3,402.3 690.5,402.3" fill="#000"/>
<line x1="669.7" y1="393.6" x2="675.7" y2="390.2" stroke="#111" stroke-width="0.8"/>
<line x1="676" y1="395" x2="682.6" y2="400.6" stroke="#111" stroke-width="1.2"/>
<line x1="684" y1="403.5" x2="688.4" y2="406.4" stroke="#111" stroke-width="0.8"/>
<path d="M688.6,413 V409.6 Q689.9,407.8 691.2,409.6 V413" fill="none" stroke="#111" stroke-width="0.9"/>
<line x1="688.4" y1="413.2" x2="694" y2="413.2" stroke="#111" stroke-width="0.8"/>
<text transform="translate(607.1 405)" font-family="Liberation Serif, Noto Serif CJK SC, serif" font-size="7.6" text-anchor="start" font-weight="bold" font-style="normal" fill="#111" textLength="14.6" lengthAdjust="spacingAndGlyphs">砧座</text>
<line x1="623.8" y1="401.2" x2="642" y2="400.6" stroke="#111" stroke-width="0.8"/>
<polygon points="646.5,400.5 641.03,401.67 640.97,399.67" fill="#000"/>
<text transform="translate(593.2 422.8)" font-family="Liberation Serif, Noto Serif CJK SC, serif" font-size="7.6" text-anchor="start" font-weight="bold" font-style="normal" fill="#111" textLength="30" lengthAdjust="spacingAndGlyphs">试样高度</text>
<path d="M624.6,419.2 H630 Q633,419 640,415.5 L670,400.4" fill="none" stroke="#111" stroke-width="0.8"/>
<polygon points="674.7,398 670.24,401.37 669.34,399.58" fill="#000"/>
<text transform="translate(600.6 458.4)" font-family="Liberation Serif, Noto Serif CJK SC, serif" font-size="7.6" text-anchor="start" font-weight="bold" font-style="normal" fill="#111" textLength="30" lengthAdjust="spacingAndGlyphs">试样宽度</text>
<path d="M632,455.4 H637 Q641,455 646,450 L661.6,433.5 L678.4,416.7 L687.8,410.2" fill="none" stroke="#111" stroke-width="0.8"/>
<text transform="translate(769.5 343.2)" font-family="Liberation Serif, Noto Serif CJK SC, serif" font-size="7.6" text-anchor="start" font-weight="bold" font-style="normal" fill="#111" textLength="15.7" lengthAdjust="spacingAndGlyphs">砧座</text>
<line x1="768.8" y1="341.1" x2="750" y2="346.3" stroke="#111" stroke-width="0.8"/>
<polygon points="745.6,347.5 750.64,345.07 751.17,347" fill="#000"/>
<text transform="translate(761 353.2)" font-family="Liberation Serif, serif" font-size="7.2" text-anchor="start" font-weight="normal" font-style="normal" fill="#222" textLength="37" lengthAdjust="spacingAndGlyphs">90°±0.10°</text>
<path d="M751.6,337.4 Q761,339.5 766.5,346" fill="none" stroke="#111" stroke-width="0.8"/>
<polygon points="751.6,337.4 757.17,337.86 756.65,339.79" fill="#000"/>
<path d="M769.4,354.5 Q769.8,360 769,366.5" fill="none" stroke="#111" stroke-width="0.8"/>
<polygon points="769,366.6 768.48,361.03 770.48,361.21" fill="#000"/>
<text transform="translate(779.8 373.3)" font-family="Liberation Serif, Noto Serif CJK SC, serif" font-size="7.6" text-anchor="start" font-weight="bold" font-style="normal" fill="#111" textLength="45.8" lengthAdjust="spacingAndGlyphs">标准尺寸试样</text>
<line x1="778.5" y1="369.5" x2="740" y2="373.5" stroke="#111" stroke-width="0.8"/>
<polygon points="735.1,374 740.47,372.44 740.67,374.43" fill="#000"/>
<text transform="translate(752.1 445.7)" font-family="Liberation Serif, Noto Serif CJK SC, serif" font-size="7.6" text-anchor="start" font-weight="bold" font-style="normal" fill="#111" textLength="21.7" lengthAdjust="spacingAndGlyphs">打击点</text>
<path d="M750.6,443.2 H746.5 Q742.5,442.5 740.1,436.7 L731.7,419.9 L724.2,405 L717.5,392.5" fill="none" stroke="#111" stroke-width="0.8"/>
<polygon points="716.2,390.2 719.7,394.56 717.94,395.51" fill="#000"/>
<text transform="translate(741 460.6)" font-family="Liberation Serif, Noto Serif CJK SC, serif" font-size="7.6" text-anchor="start" font-weight="bold" font-style="normal" fill="#111" textLength="30" lengthAdjust="spacingAndGlyphs">试样支座</text>
<path d="M738.5,457 H734.5 Q720,452.5 699,444.2" fill="none" stroke="#111" stroke-width="0.8"/>
<polygon points="695.2,442.9 700.71,443.84 700.03,445.72" fill="#000"/>
<path d="M734.5,456.4 Q737,435 741.2,416" fill="none" stroke="#111" stroke-width="0.8"/>
<polygon points="742,412.4 741.94,417.99 739.98,417.61" fill="#000"/>
<text transform="translate(724.2 476.3)" font-family="Liberation Serif, Noto Serif CJK SC, serif" font-size="7.6" text-anchor="start" font-weight="bold" font-style="normal" fill="#111" textLength="30" lengthAdjust="spacingAndGlyphs">试样长度</text>
<path d="M723.3,472.3 H717.5 Q715.5,471 713.9,461 L709.3,436.7 L704.6,408.7 L700.4,387" fill="none" stroke="#111" stroke-width="0.8"/>
<polygon points="699.6,382.6 701.62,387.81 699.65,388.19" fill="#000"/>
<polygon points="822.58,486.84 824.09,485.24 825.77,485.66 828.89,490.88 828.89,499.04 822.58,494.83" fill="none" stroke="#111" stroke-width="1" stroke-linejoin="round"/>
<polyline points="824.09,485.24 824.26,495.25" fill="none" stroke="#111" stroke-width="0.7" stroke-linejoin="round"/>
<polyline points="825.77,485.82 835.62,486.25 837.56,485.32" fill="none" stroke="#111" stroke-width="1" stroke-linejoin="round"/>
<polyline points="828.89,491.04 836.04,487.09 840.25,491.04" fill="none" stroke="#111" stroke-width="1" stroke-linejoin="round"/>
<polyline points="835.2,489.78 836.04,487.68 838.99,487.26 840.25,489.78" fill="none" stroke="#111" stroke-width="0.8" stroke-linejoin="round"/>
<polyline points="837.31,485.15 837.31,476.73 839.41,475.22 847.41,479.68 847.41,486.84" fill="none" stroke="#111" stroke-width="1" stroke-linejoin="round"/>
<polyline points="839.83,475.89 840,485.99 842.36,487.26" fill="none" stroke="#111" stroke-width="0.8" stroke-linejoin="round"/>
<polygon points="830.15,492.73 846.14,503.25 846.14,510.57 830.15,500.72" fill="none" stroke="#111" stroke-width="1" stroke-linejoin="round"/>
<polyline points="830.15,492.73 836.46,490.03" fill="none" stroke="#111" stroke-width="1" stroke-linejoin="round"/>
<polyline points="840.25,491.04 850.35,497.61 846.14,503.25" fill="none" stroke="#111" stroke-width="1" stroke-linejoin="round"/>
<polyline points="842.36,487.26 847.41,483.47" fill="none" stroke="#111" stroke-width="0.8" stroke-linejoin="round"/>
<polyline points="842.78,488.1 849.51,492.31 852.04,497.78 850.35,497.61" fill="none" stroke="#111" stroke-width="0.9" stroke-linejoin="round"/>
<polyline points="847.41,479.68 848.84,478.84 865.08,490.2 865.08,498.2 846.31,510.57" fill="none" stroke="#111" stroke-width="1" stroke-linejoin="round"/>
<polyline points="847.41,486.84 849.09,488.1 858.77,494.24 864.49,491.04" fill="none" stroke="#111" stroke-width="1" stroke-linejoin="round"/>
<polyline points="849.09,489.53 858.35,495.25 862.98,492.56 864.66,493.57" fill="none" stroke="#111" stroke-width="1.2" stroke-linejoin="round"/>
<polyline points="849.51,492.31 857.09,496.94 864.24,494.41" fill="none" stroke="#111" stroke-width="0.8" stroke-linejoin="round"/>
<polyline points="851.2,499.63 854.56,497.78 857.09,499.04 864.66,495.67" fill="none" stroke="#111" stroke-width="0.9" stroke-linejoin="round"/>
<polyline points="846.14,503.25 851.36,499.88 851.36,507.21" fill="none" stroke="#111" stroke-width="1" stroke-linejoin="round"/>
<polygon points="847.41,504.68 850.35,502.83 850.35,505.86 847.41,507.71" fill="none" stroke="#111" stroke-width="0.9" stroke-linejoin="round"/>
<polyline points="852.46,501.31 856.41,505.19" fill="none" stroke="#111" stroke-width="0.9" stroke-linejoin="round"/>
<polyline points="853.72,499.04 853.72,503.67" fill="none" stroke="#111" stroke-width="0.8" stroke-linejoin="round"/>
<text transform="translate(810.6 515.2)" font-family="Liberation Serif, Noto Serif CJK SC, serif" font-size="7.6" text-anchor="start" font-weight="bold" font-style="normal" fill="#111" textLength="7" lengthAdjust="spacingAndGlyphs">罩</text>
<path d="M820.6,512.9 H826 Q829.5,512.5 831.5,509 L837.9,499.8" fill="none" stroke="#111" stroke-width="0.8"/>
<text transform="translate(877.8 531.5)" font-family="Liberation Serif, Noto Serif CJK SC, serif" font-size="7.6" text-anchor="start" font-weight="bold" font-style="normal" fill="#111" textLength="44.2" lengthAdjust="spacingAndGlyphs">摆锤冲击方向</text>
<line x1="879.8" y1="520.8" x2="860" y2="508" stroke="#111" stroke-width="0.8"/>
<polygon points="857.2,506.2 862.84,508.53 861.64,510.38" fill="#000"/></g>
</svg></body></html>
